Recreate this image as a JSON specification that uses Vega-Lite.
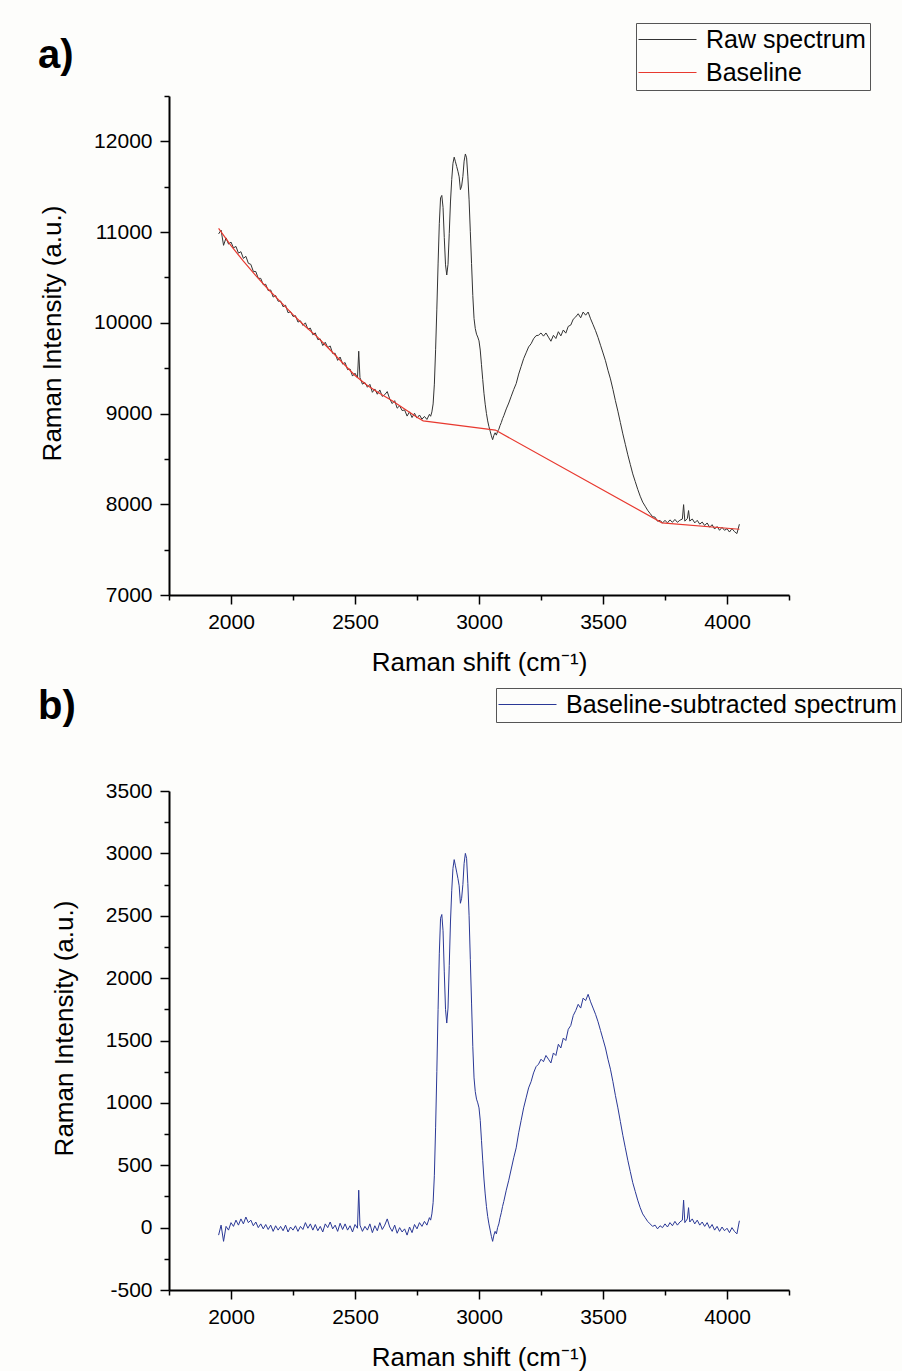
{
  "$schema": "https://vega.github.io/schema/vega-lite/v6.json",
  "background": "#fdfdfb",
  "padding": {"left": 38, "top": 22, "right": 0, "bottom": 2},
  "spacing": 11,
  "config": {
    "font": "Liberation Sans",
    "view": {"stroke": null},
    "axis": {"grid": false, "domainColor": "#000000", "domainWidth": 2, "tickColor": "#000000", "tickWidth": 1.5, "labelFontSize": 21, "labelColor": "#000000", "titleFontSize": 26, "titleFontWeight": "normal", "titleColor": "#000000", "labelFont": "Liberation Sans", "titleFont": "Liberation Sans", "labelOverlap": false},
    "axisX": {"labelPadding": 7, "titlePadding": 17},
    "axisY": {"labelPadding": 8, "titlePadding": 28, "titleY": 237},
    "legend": {"labelFont": "Liberation Sans", "labelFontSize": 25, "labelColor": "#000000", "strokeColor": "#555555", "padding": 4, "rowPadding": 7, "symbolType": "M-1.4,0H4.4", "symbolSize": 400, "symbolStrokeWidth": 1.2, "labelOffset": 41, "labelLimit": 0, "fillColor": "#fdfdfb"}
  },
  "resolve": {"scale": {"color": "independent"}},
  "datasets": {
    "spec": [
      {"x":1950,"raw":10980,"sub":-60},{"x":1960,"raw":11022,"sub":20},{"x":1970,"raw":10854,"sub":-110},{"x":1980,"raw":10936,"sub":10},{"x":1990,"raw":10868,"sub":-20},
      {"x":2000,"raw":10890,"sub":40},{"x":2010,"raw":10826,"sub":10},{"x":2020,"raw":10842,"sub":60},{"x":2030,"raw":10768,"sub":20},{"x":2040,"raw":10784,"sub":70},
      {"x":2050,"raw":10710,"sub":30},{"x":2060,"raw":10733,"sub":85},{"x":2070,"raw":10656,"sub":40},{"x":2080,"raw":10644,"sub":60},{"x":2090,"raw":10567,"sub":15},
      {"x":2100,"raw":10565,"sub":45},{"x":2110,"raw":10490,"sub":0},{"x":2120,"raw":10490,"sub":30},{"x":2130,"raw":10420,"sub":-10},{"x":2140,"raw":10425,"sub":25},
      {"x":2150,"raw":10355,"sub":-15},{"x":2160,"raw":10362,"sub":20},{"x":2170,"raw":10284,"sub":-30},{"x":2180,"raw":10301,"sub":15},{"x":2190,"raw":10238,"sub":-20},
      {"x":2200,"raw":10240,"sub":10},{"x":2210,"raw":10177,"sub":-25},{"x":2220,"raw":10194,"sub":20},{"x":2230,"raw":10111,"sub":-35},{"x":2240,"raw":10123,"sub":5},
      {"x":2250,"raw":10070,"sub":-20},{"x":2260,"raw":10079,"sub":15},{"x":2270,"raw":10008,"sub":-30},{"x":2280,"raw":10022,"sub":10},{"x":2290,"raw":9971,"sub":-15},
      {"x":2300,"raw":10000,"sub":40},{"x":2310,"raw":9931,"sub":-5},{"x":2320,"raw":9942,"sub":30},{"x":2330,"raw":9868,"sub":-20},{"x":2340,"raw":9889,"sub":25},
      {"x":2350,"raw":9815,"sub":-25},{"x":2360,"raw":9822,"sub":10},{"x":2370,"raw":9749,"sub":-35},{"x":2380,"raw":9786,"sub":30},{"x":2390,"raw":9728,"sub":0},
      {"x":2400,"raw":9745,"sub":45},{"x":2410,"raw":9662,"sub":-10},{"x":2420,"raw":9664,"sub":20},{"x":2430,"raw":9586,"sub":-30},{"x":2440,"raw":9623,"sub":35},
      {"x":2450,"raw":9545,"sub":-15},{"x":2460,"raw":9562,"sub":30},{"x":2470,"raw":9484,"sub":-20},{"x":2480,"raw":9491,"sub":15},{"x":2490,"raw":9413,"sub":-35},
      {"x":2500,"raw":9445,"sub":25},{"x":2510,"raw":9393,"sub":-5},{"x":2515,"raw":9687,"sub":300},{"x":2520,"raw":9396,"sub":20},{"x":2530,"raw":9324,"sub":-30},{"x":2540,"raw":9342,"sub":10},
      {"x":2550,"raw":9290,"sub":-20},{"x":2560,"raw":9322,"sub":30},{"x":2570,"raw":9234,"sub":-40},{"x":2580,"raw":9271,"sub":15},{"x":2590,"raw":9213,"sub":-25},
      {"x":2600,"raw":9260,"sub":40},{"x":2610,"raw":9189,"sub":-15},{"x":2620,"raw":9208,"sub":20},{"x":2630,"raw":9242,"sub":70},{"x":2640,"raw":9161,"sub":5},
      {"x":2650,"raw":9110,"sub":-30},{"x":2660,"raw":9142,"sub":20},{"x":2670,"raw":9059,"sub":-45},{"x":2680,"raw":9086,"sub":0},{"x":2690,"raw":9033,"sub":-35},
      {"x":2700,"raw":9040,"sub":-10},{"x":2710,"raw":8972,"sub":-60},{"x":2720,"raw":9019,"sub":5},{"x":2730,"raw":8956,"sub":-40},{"x":2740,"raw":9003,"sub":25},
      {"x":2750,"raw":8950,"sub":-10},{"x":2760,"raw":8984,"sub":40},{"x":2770,"raw":8938,"sub":10},{"x":2780,"raw":8968,"sub":50},{"x":2790,"raw":8935,"sub":20},
      {"x":2800,"raw":8991,"sub":80},{"x":2805,"raw":8970,"sub":60},{"x":2810,"raw":9018,"sub":110},{"x":2815,"raw":9106,"sub":200},{"x":2820,"raw":9324,"sub":420},
      {"x":2825,"raw":9703,"sub":800},{"x":2830,"raw":10151,"sub":1250},{"x":2835,"raw":10649,"sub":1750},{"x":2840,"raw":11097,"sub":2200},{"x":2845,"raw":11376,"sub":2480},
      {"x":2850,"raw":11404,"sub":2510},{"x":2855,"raw":11272,"sub":2380},{"x":2860,"raw":10940,"sub":2050},{"x":2865,"raw":10639,"sub":1750},{"x":2870,"raw":10527,"sub":1640},
      {"x":2875,"raw":10645,"sub":1760},{"x":2880,"raw":10983,"sub":2100},{"x":2885,"raw":11332,"sub":2450},{"x":2890,"raw":11580,"sub":2700},{"x":2895,"raw":11758,"sub":2880},
      {"x":2900,"raw":11826,"sub":2950},{"x":2905,"raw":11775,"sub":2900},{"x":2910,"raw":11723,"sub":2850},{"x":2915,"raw":11671,"sub":2800},{"x":2920,"raw":11609,"sub":2740},
      {"x":2925,"raw":11468,"sub":2600},{"x":2930,"raw":11506,"sub":2640},{"x":2935,"raw":11614,"sub":2750},{"x":2940,"raw":11782,"sub":2920},{"x":2945,"raw":11861,"sub":3000},
      {"x":2950,"raw":11819,"sub":2960},{"x":2955,"raw":11617,"sub":2760},{"x":2960,"raw":11355,"sub":2500},{"x":2965,"raw":11004,"sub":2150},{"x":2970,"raw":10652,"sub":1800},
      {"x":2975,"raw":10300,"sub":1450},{"x":2980,"raw":10048,"sub":1200},{"x":2985,"raw":9937,"sub":1090},{"x":2990,"raw":9875,"sub":1030},{"x":2995,"raw":9843,"sub":1000},
      {"x":3000,"raw":9801,"sub":960},{"x":3005,"raw":9700,"sub":860},{"x":3010,"raw":9538,"sub":700},{"x":3015,"raw":9376,"sub":540},{"x":3020,"raw":9224,"sub":390},
      {"x":3025,"raw":9103,"sub":270},{"x":3030,"raw":9001,"sub":170},{"x":3035,"raw":8919,"sub":90},{"x":3040,"raw":8857,"sub":30},{"x":3045,"raw":8806,"sub":-20},
      {"x":3050,"raw":8754,"sub":-70},{"x":3055,"raw":8712,"sub":-110},{"x":3060,"raw":8760,"sub":-60},{"x":3065,"raw":8788,"sub":-30},{"x":3070,"raw":8762,"sub":-50},
      {"x":3075,"raw":8804,"sub":0},{"x":3080,"raw":8827,"sub":30},{"x":3085,"raw":8869,"sub":80},{"x":3090,"raw":8901,"sub":120},{"x":3095,"raw":8944,"sub":170},
      {"x":3100,"raw":8976,"sub":210},{"x":3110,"raw":9051,"sub":300},{"x":3120,"raw":9116,"sub":380},{"x":3130,"raw":9191,"sub":470},{"x":3140,"raw":9265,"sub":560},
      {"x":3150,"raw":9330,"sub":640},{"x":3160,"raw":9435,"sub":760},{"x":3170,"raw":9520,"sub":860},{"x":3180,"raw":9605,"sub":960},{"x":3190,"raw":9669,"sub":1040},
      {"x":3200,"raw":9734,"sub":1120},{"x":3210,"raw":9769,"sub":1170},{"x":3220,"raw":9824,"sub":1240},{"x":3230,"raw":9858,"sub":1290},{"x":3240,"raw":9863,"sub":1310},
      {"x":3250,"raw":9888,"sub":1350},{"x":3260,"raw":9853,"sub":1330},{"x":3270,"raw":9888,"sub":1380},{"x":3280,"raw":9842,"sub":1350},{"x":3290,"raw":9797,"sub":1320},
      {"x":3300,"raw":9862,"sub":1400},{"x":3310,"raw":9827,"sub":1380},{"x":3320,"raw":9902,"sub":1470},{"x":3330,"raw":9856,"sub":1440},{"x":3340,"raw":9921,"sub":1520},
      {"x":3350,"raw":9886,"sub":1500},{"x":3360,"raw":9961,"sub":1590},{"x":3370,"raw":9975,"sub":1620},{"x":3380,"raw":10040,"sub":1700},{"x":3390,"raw":10065,"sub":1740},
      {"x":3400,"raw":10100,"sub":1790},{"x":3410,"raw":10055,"sub":1760},{"x":3420,"raw":10119,"sub":1840},{"x":3430,"raw":10084,"sub":1820},{"x":3440,"raw":10119,"sub":1870},
      {"x":3450,"raw":10044,"sub":1810},{"x":3460,"raw":9979,"sub":1760},{"x":3470,"raw":9913,"sub":1710},{"x":3480,"raw":9838,"sub":1650},{"x":3490,"raw":9753,"sub":1580},
      {"x":3500,"raw":9668,"sub":1510},{"x":3510,"raw":9582,"sub":1440},{"x":3520,"raw":9477,"sub":1350},{"x":3530,"raw":9382,"sub":1270},{"x":3540,"raw":9267,"sub":1170},
      {"x":3550,"raw":9142,"sub":1060},{"x":3560,"raw":9026,"sub":960},{"x":3570,"raw":8901,"sub":850},{"x":3580,"raw":8776,"sub":740},{"x":3590,"raw":8661,"sub":640},
      {"x":3600,"raw":8545,"sub":540},{"x":3610,"raw":8440,"sub":450},{"x":3620,"raw":8335,"sub":360},{"x":3630,"raw":8250,"sub":290},{"x":3640,"raw":8165,"sub":220},
      {"x":3650,"raw":8089,"sub":160},{"x":3660,"raw":8024,"sub":110},{"x":3670,"raw":7979,"sub":80},{"x":3680,"raw":7934,"sub":50},{"x":3690,"raw":7898,"sub":30},
      {"x":3700,"raw":7863,"sub":10},{"x":3710,"raw":7858,"sub":20},{"x":3720,"raw":7813,"sub":-10},{"x":3730,"raw":7823,"sub":15},{"x":3740,"raw":7795,"sub":0},
      {"x":3750,"raw":7822,"sub":30},{"x":3760,"raw":7795,"sub":5},{"x":3770,"raw":7828,"sub":40},{"x":3780,"raw":7801,"sub":15},{"x":3790,"raw":7833,"sub":50},
      {"x":3800,"raw":7801,"sub":20},{"x":3810,"raw":7824,"sub":45},{"x":3820,"raw":7837,"sub":60},{"x":3825,"raw":7996,"sub":220},{"x":3830,"raw":7814,"sub":40},
      {"x":3840,"raw":7842,"sub":70},{"x":3845,"raw":7931,"sub":160},{"x":3850,"raw":7815,"sub":45},{"x":3860,"raw":7838,"sub":70},{"x":3870,"raw":7795,"sub":30},
      {"x":3880,"raw":7823,"sub":60},{"x":3890,"raw":7781,"sub":20},{"x":3900,"raw":7804,"sub":45},{"x":3910,"raw":7766,"sub":10},{"x":3920,"raw":7794,"sub":40},
      {"x":3930,"raw":7747,"sub":-5},{"x":3940,"raw":7775,"sub":25},{"x":3950,"raw":7727,"sub":-20},{"x":3960,"raw":7755,"sub":10},{"x":3970,"raw":7713,"sub":-30},
      {"x":3980,"raw":7746,"sub":5},{"x":3990,"raw":7713,"sub":-25},{"x":4000,"raw":7731,"sub":-5},{"x":4010,"raw":7694,"sub":-40},{"x":4020,"raw":7732,"sub":0},
      {"x":4030,"raw":7699,"sub":-30},{"x":4040,"raw":7677,"sub":-50},{"x":4050,"raw":7780,"sub":55}
    ],
    "base": [
      {"x":1950,"y":11040},{"x":2000,"y":10850},{"x":2050,"y":10680},{"x":2100,"y":10520},{"x":2150,"y":10370},{"x":2200,"y":10230},
      {"x":2250,"y":10090},{"x":2300,"y":9960},{"x":2350,"y":9840},{"x":2400,"y":9700},{"x":2450,"y":9560},{"x":2500,"y":9420},
      {"x":2550,"y":9310},{"x":2600,"y":9220},{"x":2650,"y":9140},{"x":2700,"y":9050},{"x":2750,"y":8960},{"x":2775,"y":8920},
      {"x":3066,"y":8818},{"x":3738,"y":7795},{"x":4050,"y":7725}
    ]
  },
  "vconcat": [
    {
      "width": 620,
      "height": 499,
      "title": {"text": "a)", "anchor": "start", "frame": "group", "fontSize": 40, "fontWeight": "bold", "color": "#000000", "dx": -131, "dy": 85, "baseline": "alphabetic", "offset": 0},
      "layer": [
        {
          "data": {"name": "spec"},
          "mark": {"type": "line", "strokeWidth": 1},
          "encoding": {
            "x": {"field": "x", "type": "quantitative", "scale": {"domain": [1750, 4250], "nice": false, "zero": false},
                  "axis": {"title": "Raman shift (cm⁻¹)", "values": [1750,2000,2250,2500,2750,3000,3250,3500,3750,4000,4250],
                           "labelExpr": "datum.value % 500 == 0 ? '' + datum.value : ''",
                           "tickSize": {"condition": {"test": "datum.value % 500 != 0", "value": 5}, "value": 9}}},
            "y": {"field": "raw", "type": "quantitative", "scale": {"domain": [7000, 12500], "nice": false, "zero": false},
                  "axis": {"title": "Raman Intensity (a.u.)", "values": [7000,7500,8000,8500,9000,9500,10000,10500,11000,11500,12000,12500],
                           "labelExpr": "datum.value % 1000 == 0 ? '' + datum.value : ''",
                           "tickSize": {"condition": {"test": "datum.value % 1000 != 0", "value": 5}, "value": 9}}},
            "color": {"datum": "Raw spectrum", "type": "nominal",
                      "scale": {"domain": ["Raw spectrum", "Baseline"], "range": ["#333333", "#e8392f"]},
                      "legend": {"title": null, "orient": "none", "legendX": 467, "legendY": -73}}
          }
        },
        {
          "data": {"name": "base"},
          "mark": {"type": "line", "strokeWidth": 1.2},
          "encoding": {
            "x": {"field": "x", "type": "quantitative"},
            "y": {"field": "y", "type": "quantitative"},
            "color": {"datum": "Baseline", "type": "nominal"}
          }
        }
      ]
    },
    {
      "width": 620,
      "height": 499,
      "title": {"text": "b)", "anchor": "start", "frame": "group", "fontSize": 40, "fontWeight": "bold", "color": "#000000", "dx": -131, "dy": 71, "baseline": "alphabetic", "offset": 0},
      "data": {"name": "spec"},
      "mark": {"type": "line", "strokeWidth": 1},
      "encoding": {
        "x": {"field": "x", "type": "quantitative", "scale": {"domain": [1750, 4250], "nice": false, "zero": false},
              "axis": {"title": "Raman shift (cm⁻¹)", "values": [1750,2000,2250,2500,2750,3000,3250,3500,3750,4000,4250],
                       "labelExpr": "datum.value % 500 == 0 ? '' + datum.value : ''",
                       "tickSize": {"condition": {"test": "datum.value % 500 != 0", "value": 5}, "value": 9}}},
        "y": {"field": "sub", "type": "quantitative", "scale": {"domain": [-500, 3500], "nice": false, "zero": false},
              "axis": {"title": "Raman Intensity (a.u.)", "values": [-500,-250,0,250,500,750,1000,1250,1500,1750,2000,2250,2500,2750,3000,3250,3500],
                       "labelExpr": "datum.value % 500 == 0 ? '' + datum.value : ''",
                       "tickSize": {"condition": {"test": "datum.value % 500 != 0", "value": 5}, "value": 9}}},
        "color": {"datum": "Baseline-subtracted spectrum", "type": "nominal",
                  "scale": {"range": ["#2a3896"]},
                  "legend": {"title": null, "orient": "none", "legendX": 327, "legendY": -103}}
      }
    }
  ]
}
